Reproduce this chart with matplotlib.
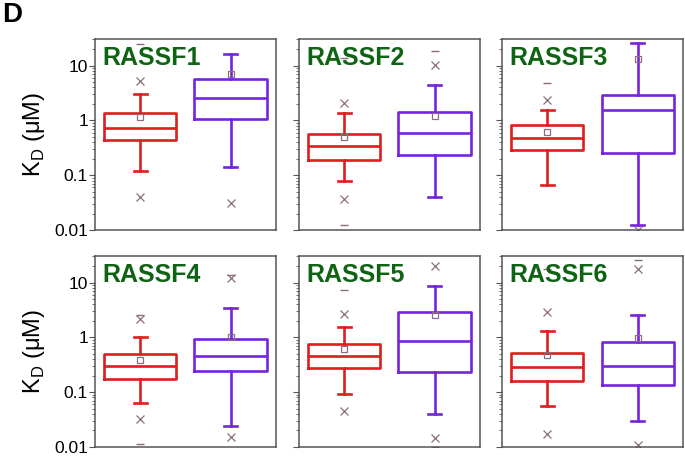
import numpy as np
from matplotlib import pyplot as plt

plt.rcParams['font.family'] = ['Liberation Sans', 'DejaVu Sans']

names = ['RASSF1', 'RASSF2', 'RASSF3', 'RASSF4', 'RASSF5', 'RASSF6']
nan = np.nan

# each entry: (red, purple)
q1 = [(0.44, 1.05), (0.186, 0.236), (0.287, 0.249), (0.174, 0.244), (0.28, 0.234), (0.162, 0.137)]
med = [(0.74, 2.6), (0.334, 0.585), (0.487, 1.53), (0.297, 0.458), (0.453, 0.875), (0.285, 0.305)]
q3 = [(1.35, 5.7), (0.56, 1.41), (0.817, 2.95), (0.49, 0.935), (0.76, 2.89), (0.514, 0.817)]
whislo = [(0.12, 0.144), (0.0775, 0.0395), (0.067, 0.01225), (0.0635, 0.024), (0.094, 0.040), (0.0566, 0.0297)]
whishi = [(3.03, 16.0), (1.35, 4.36), (1.57, 25.3), (1.03, 3.36), (1.56, 8.6), (1.3, 2.58)]
means = [(1.16, 7.0), (0.494, 1.19), (0.626, 13.3), (0.39, 1.0), (0.624, 2.55), (0.485, 0.99)]
p99 = [(5.2, nan), (2.08, 10.2), (2.33, nan), (2.17, 12.3), (2.65, 20.0), (2.92, 17.9)]
p1 = [(0.040, 0.0316), (0.0374, nan), (nan, 0.0098), (0.032, 0.015), (0.046, 0.0146), (0.0172, 0.011)]
vmax = [(24.6, nan), (13.9, 18.4), (4.74, nan), (2.57, 13.8), (7.4, nan), (17.4, 25.8)]
vmin = [(nan, nan), (0.0126, nan), (nan, nan), (0.0113, nan), (nan, 0.0101), (nan, nan)]

colors = ['#dc1e1e', '#7424dc']
mark_col = '#8a6e80'
axis_col = '#555555'

fig = plt.figure(figsize=(6.85, 4.57), dpi=100)
lefts = [0.1387, 0.4365, 0.733]
bottoms = [0.4967, 0.022]
w, h = 0.264, 0.417

for i, name in enumerate(names):
    r, c = divmod(i, 3)
    ax = fig.add_axes([lefts[c], bottoms[r], w, h])
    pos = [1, 2]
    for k in range(2):
        st = [dict(med=med[i][k], q1=q1[i][k], q3=q3[i][k],
                   whislo=whislo[i][k], whishi=whishi[i][k], fliers=[])]
        lp = dict(color=colors[k], lw=1.9)
        ax.bxp(st, positions=[pos[k]], widths=0.8, capwidths=0.14,
               showfliers=False, boxprops=lp, whiskerprops=lp,
               capprops=lp, medianprops=lp, manage_ticks=False)
        ax.plot(pos[k], means[i][k], 's', ms=4.5, mfc='none', mec=mark_col, mew=0.9)
        ax.plot([pos[k], pos[k]], [p99[i][k], p1[i][k]], 'x', ms=6, color=mark_col,
                mew=0.9, ls='none')
        ax.plot([pos[k], pos[k]], [vmax[i][k], vmin[i][k]], '_', ms=6, color=mark_col,
                mew=1.0, ls='none')
    ax.set_yscale('log')
    ax.set_ylim(0.01, 30)
    ax.set_xlim(0.5, 2.5)
    ax.set_xticks([])
    ax.set_yticks([0.01, 0.1, 1, 10])
    for s in ax.spines.values():
        s.set_color(axis_col)
        s.set_linewidth(1.1)
    ax.tick_params(axis='y', which='major', length=4, width=0.8, color=axis_col,
                   labelsize=12.5, pad=1)
    ax.tick_params(axis='y', which='minor', length=2, width=0.6, color=axis_col)
    if c == 0:
        ax.set_yticklabels(['0.01', '0.1', '1', '10'])
        ax.set_ylabel(r'K$_\mathregular{D}$ ($\mathregular{\mu}$M)', fontsize=17, labelpad=5)
    else:
        ax.set_yticklabels([])
    ax.text(0.04, 0.965, name, transform=ax.transAxes, ha='left', va='top',
            fontsize=18, fontweight='bold', color='#0f6414')

fig.text(0.003, 0.995, 'D', ha='left', va='top', fontsize=20, fontweight='bold')
fig.savefig('out.png', dpi=100)
